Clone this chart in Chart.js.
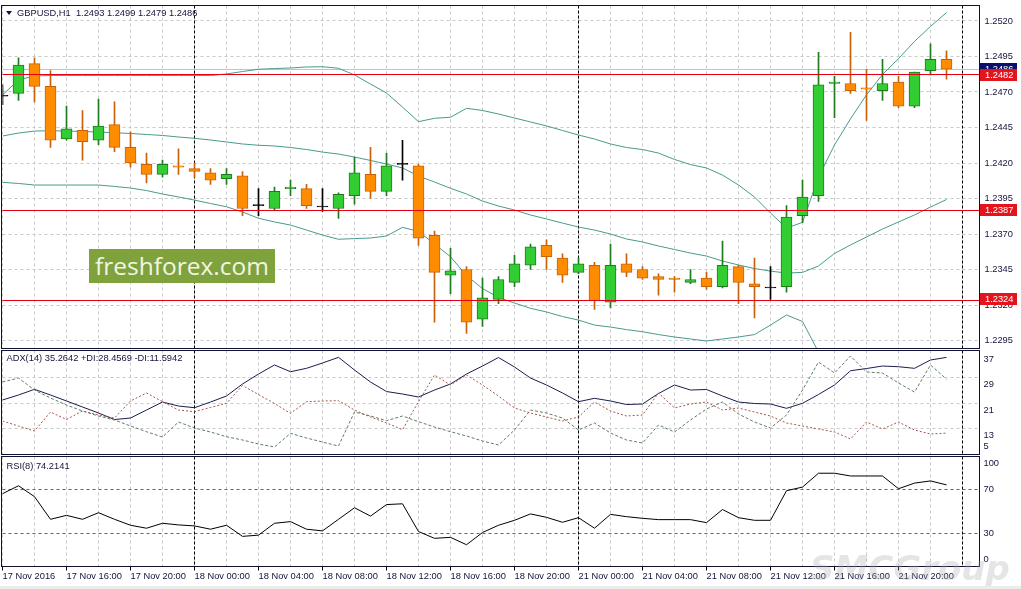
<!DOCTYPE html>
<html lang="en">
<head>
<meta charset="UTF-8">
<title>GBPUSD,H1</title>
<script src="https://cdn.jsdelivr.net/npm/chart.js@4.4.3/dist/chart.umd.min.js"></script>
<style>
  html, body { margin: 0; padding: 0; background: #fff; }
  #wrap { position: relative; width: 1021px; height: 589px; overflow: hidden; background: #fff; }
  #wrap canvas { position: absolute; left: 0; }
  #fresh { position: absolute; left: 89px; top: 249px; width: 186px; height: 34px; background: #80a23c;
           color: #f1f5e4; font: 24.5px 'Open Sans', sans-serif; line-height: 33px; text-align: center; }
  #smc { position: absolute; left: 810px; top: 548px; font: italic bold 34px 'DejaVu Sans', sans-serif;
         color: rgba(170,170,170,0.3); }
  #strip { position: absolute; left: 0; top: 586px; width: 1021px; height: 3px; background: #ececec; }
</style>
</head>
<body>
<div id="wrap">
  <canvas id="price" width="1021" height="349" style="top:0"></canvas>
  <canvas id="adx" width="1021" height="107" style="top:349px"></canvas>
  <canvas id="rsi" width="1021" height="133" style="top:456px"></canvas>
  <div id="fresh">freshforex.com</div>
  <div id="smc">SMCGroup</div>
  <div id="strip"></div>
</div>
<script>
// --- data (H1 bars, 17 Nov 12:00 .. 21 Nov 23:00) ---
const timeLabels = ['17 Nov 2016', '17 Nov 16:00', '17 Nov 20:00', '18 Nov 00:00', '18 Nov 04:00',
  '18 Nov 08:00', '18 Nov 12:00', '18 Nov 16:00', '18 Nov 20:00', '21 Nov 00:00', '21 Nov 04:00',
  '21 Nov 08:00', '21 Nov 12:00', '21 Nov 16:00', '21 Nov 20:00'];
const priceTicks = [1.2295, 1.2320, 1.2345, 1.2370, 1.2395, 1.2420, 1.2445, 1.2470, 1.2495, 1.2520];

const opens = [1.2467,1.2469,1.2490,1.2474,1.2437,1.2443,1.2436,1.2447,1.2431,1.2419,
  1.2412,1.2418,1.2416,1.2413,1.2409,1.2411,1.2390,1.2388,1.2402,1.2402,
  1.2389,1.2388,1.2397,1.2412,1.2400,1.2419,1.2418,1.2369,1.2341,1.2345,
  1.2310,1.2324,1.2336,1.2348,1.2362,1.2353,1.2343,1.2348,1.2322,1.2349,
  1.2345,1.2340,1.2339,1.2336,1.2339,1.2333,1.2347,1.2335,1.2332,1.2333,
  1.2383,1.2397,1.2476,1.2476,1.2473,1.2471,1.2477,1.2460,1.2485,1.2493];
const highs = [1.2475,1.2494,1.2494,1.2485,1.2460,1.2457,1.2465,1.2463,1.2442,1.2427,
  1.2422,1.2430,1.2420,1.2416,1.2416,1.2414,1.2402,1.2403,1.2408,1.2405,
  1.2402,1.2399,1.2424,1.2431,1.2427,1.2436,1.2419,1.2372,1.2360,1.2347,
  1.2339,1.2340,1.2355,1.2363,1.2366,1.2356,1.2353,1.2350,1.2363,1.2356,
  1.2347,1.2342,1.2340,1.2345,1.2343,1.2365,1.2348,1.2353,1.2347,1.2390,
  1.2408,1.2498,1.2481,1.2512,1.2486,1.2493,1.2481,1.2484,1.2504,1.2499];
const lows = [1.2461,1.2464,1.2463,1.2431,1.2436,1.2422,1.2433,1.2428,1.2417,1.2406,
  1.2410,1.2412,1.2410,1.2405,1.2405,1.2383,1.2383,1.2387,1.2397,1.2388,
  1.2386,1.2381,1.2391,1.2395,1.2397,1.2408,1.2362,1.2308,1.2328,1.2300,
  1.2305,1.2321,1.2333,1.2345,1.2345,1.2336,1.2342,1.2317,1.2318,1.2340,
  1.2338,1.2327,1.2329,1.2335,1.2331,1.2332,1.2321,1.2311,1.2324,1.2329,
  1.2378,1.2393,1.2452,1.2469,1.2450,1.2464,1.2459,1.2459,1.2482,1.2479];
const closes = [1.2467,1.2489,1.2474,1.2436,1.2444,1.2435,1.2446,1.2431,1.2420,1.2412,
  1.2419,1.2417,1.2414,1.2408,1.2412,1.2388,1.2390,1.2400,1.2403,1.2390,
  1.2389,1.2398,1.2413,1.2400,1.2418,1.2419,1.2367,1.2343,1.2344,1.2308,
  1.2325,1.2338,1.2349,1.2361,1.2354,1.2341,1.2349,1.2323,1.2348,1.2343,
  1.2339,1.2338,1.2338,1.2338,1.2333,1.2348,1.2336,1.2333,1.2332,1.2382,
  1.2396,1.2475,1.2477,1.2471,1.2472,1.2476,1.2460,1.2484,1.2493,1.2486];

const bbUpper = [1.24679,1.24785,1.24813,1.24816,1.24816,1.24816,1.24816,1.24816,1.24816,1.24816,
  1.24816,1.24816,1.24816,1.24816,1.24827,1.24844,1.24860,1.24865,1.24869,1.24876,
  1.24878,1.24867,1.24820,1.24756,1.24693,1.24594,1.24491,1.24515,1.24522,1.24585,
  1.24570,1.24545,1.24517,1.24489,1.24461,1.24429,1.24397,1.24369,1.24334,1.24309,
  1.24295,1.24270,1.24225,1.24189,1.24165,1.24115,1.24045,1.23961,1.23848,1.23742,
  1.23782,1.24101,1.24327,1.24511,1.24680,1.24823,1.24935,1.25056,1.25162,1.25259];
const bbMiddle = [1.24390,1.24411,1.24425,1.24427,1.24425,1.24422,1.24418,1.24413,1.24408,1.24401,
  1.24394,1.24383,1.24374,1.24362,1.24348,1.24334,1.24325,1.24320,1.24309,1.24295,
  1.24277,1.24263,1.24242,1.24218,1.24193,1.24165,1.24108,1.24066,1.24022,1.23982,
  1.23932,1.23897,1.23869,1.23834,1.23806,1.23777,1.23749,1.23728,1.23700,1.23665,
  1.23644,1.23616,1.23591,1.23566,1.23545,1.23510,1.23482,1.23457,1.23439,1.23425,
  1.23430,1.23475,1.23563,1.23623,1.23679,1.23735,1.23785,1.23834,1.23890,1.23943];
const bbLower = [1.24064,1.24056,1.24045,1.24045,1.24045,1.24045,1.24045,1.24035,1.24024,1.24006,
  1.23982,1.23961,1.23939,1.23915,1.23892,1.23855,1.23811,1.23785,1.23763,1.23728,
  1.23693,1.23663,1.23668,1.23672,1.23686,1.23747,1.23718,1.23630,1.23540,1.23408,
  1.23316,1.23254,1.23214,1.23177,1.23151,1.23119,1.23094,1.23059,1.23045,1.23027,
  1.23012,1.22992,1.22975,1.22961,1.22947,1.22961,1.22975,1.22992,1.23059,1.23130,
  1.23084,1.22869,null,null,null,null,null,null,null,null];

const adxMain = [21.94,23.50,25.28,23.50,21.63,19.75,17.88,15.84,16.31,18.81,
  21.31,20.06,19.53,21.31,23.19,26.94,30.06,32.88,30.78,31.84,
  33.50,35.28,31.31,27.56,24.59,23.81,22.88,25.06,26.94,30.06,
  32.56,35.22,32.25,28.81,26.63,24.13,21.41,22.47,21.63,20.53,
  20.69,23.97,26.63,25.06,25.22,23.19,21.31,20.84,20.69,19.34,
  20.91,23.66,26.63,31.09,31.78,32.56,32.34,31.84,34.44,35.26];
const adxPlus = [27.56,28.81,25.06,22.56,20.38,18.50,16.94,15.69,13.81,12.03,
  10.38,15.06,13.19,11.94,10.47,9.44,8.19,7.25,11.53,10.06,
  8.81,7.56,18.19,16.94,15.47,16.94,15.16,13.50,12.03,10.69,
  9.13,7.88,12.56,18.81,17.88,16.31,12.56,14.75,11.63,9.44,
  8.50,14.13,11.94,15.69,19.13,21.31,17.56,15.06,13.19,17.25,
  25.06,33.81,30.38,35.69,30.69,30.38,27.25,24.44,32.88,28.46];
const adxMinus = [15.38,13.81,12.25,18.19,15.85,18.50,17.25,16.31,21.63,24.13,
  21.41,18.81,18.28,19.60,20.91,26.47,23.66,20.85,17.78,21.41,
  21.63,21.72,18.81,16.63,14.75,12.66,21.41,29.75,26.63,29.75,
  26.63,23.19,19.44,17.88,16.63,15.38,16.63,21.31,18.50,16.94,
  17.25,24.13,19.44,20.69,21.31,18.81,19.44,18.19,16.94,14.75,
  13.81,12.88,11.94,9.75,15.06,12.88,15.06,12.56,11.31,11.59];
const rsiValues = [66.2,73.4,63.5,42.9,46.5,42.9,48.9,42.9,37.5,34.8,
  39.3,37.8,36.9,33.9,37.5,27.4,28.5,39.3,40.8,33.9,
  32.4,42.9,53.4,45.8,56.3,57.0,31.8,25.6,26.5,19.8,
  30.9,37.5,42.0,47.8,44.7,40.2,44.4,34.8,47.4,45.3,
  43.8,42.6,42.6,42.6,39.9,51.8,44.4,42.0,42.0,68.9,
  72.2,84.8,84.8,82.3,82.3,82.3,70.7,75.8,77.8,74.21];

const levels = [1.2482, 1.2387, 1.2324];
const bidPrice = 1.2486;
const adxTicks = [5, 13, 21, 29, 37];
const rsiTicks = [0, 30, 70, 100];
const separators = [12, 36, 60];

// --- look ---
const FONT = "'Liberation Sans', Arial, sans-serif";
const TEXT = '#14143c';
const GRID = '#c9c9c9';
const X_MAX = 61.0625;
const AXIS_W = 41.5;
const BB_COLOR = 'rgb(72,155,140)';
const LEVEL_LINE = 'rgb(228,0,18)';

Chart.defaults.font.family = FONT;
Chart.defaults.font.size = 9.3;
Chart.defaults.color = TEXT;

const idx = opens.map((_, i) => i);
const pts = arr => arr.map((v, i) => ({ x: i, y: v }));

function noPad(s) { s.paddingTop = 0; s.paddingBottom = 0; s.paddingLeft = 0; s.paddingRight = 0; }

function xAxis(showLabels) {
  return {
    type: 'linear', min: 0, max: X_MAX, offset: false,
    afterBuildTicks: s => { const t = []; for (let v = 0; v <= 60; v += 2) t.push({ value: v }); s.ticks = t; },
    ticks: showLabels ? {
      autoSkip: false, maxRotation: 0, minRotation: 0, align: 'start', padding: 0, color: TEXT,
      callback: v => (v % 4 === 0 && timeLabels[v / 4]) || ''
    } : { display: false },
    grid: {
      color: GRID, offset: false, drawTicks: showLabels, tickLength: 4,
      tickColor: c => (c.tick && c.tick.value % 4 === 0 && c.tick.value < 60) ? '#000' : 'rgba(0,0,0,0)'
    },
    border: { display: false, dash: [3, 3] },
    afterFit: s => { s.height = showLabels ? 22.5 : 0; noPad(s); }
  };
}

function yAxis(extra) {
  return Object.assign({
    position: 'right',
    grid: { color: GRID, drawTicks: false },
    border: { display: false, dash: [3, 3] },
    afterFit: s => { s.width = AXIS_W; noPad(s); }
  }, extra);
}

function lineSet(arr, color, dash) {
  return { type: 'line', data: pts(arr), borderColor: color, borderWidth: 1, borderDash: dash || [],
           pointRadius: 0, tension: 0, fill: false, order: 3 };
}

function drawSeparators(chart) {
  const { ctx, chartArea: a, scales: { x } } = chart;
  ctx.save();
  ctx.strokeStyle = '#000'; ctx.lineWidth = 1; ctx.setLineDash([3, 2]);
  separators.forEach(i => {
    const px = Math.floor(x.getPixelForValue(i)) + 0.5;
    ctx.beginPath(); ctx.moveTo(px, a.top); ctx.lineTo(px, a.bottom); ctx.stroke();
  });
  ctx.restore();
}

function drawFrame(chart) {
  const { ctx, chartArea: a } = chart;
  const t = Math.floor(a.top) + 0.5, b = Math.floor(a.bottom) + 0.5;
  ctx.save();
  ctx.strokeStyle = '#101030'; ctx.lineWidth = 1;
  ctx.strokeRect(1.5, t, Math.floor(a.right) - 1, b - t);
  ctx.restore();
}

function drawHeader(chart, text, x, y) {
  const ctx = chart.ctx;
  ctx.save();
  ctx.fillStyle = TEXT; ctx.font = '9.3px ' + FONT; ctx.textBaseline = 'middle'; ctx.textAlign = 'left';
  ctx.fillText(text, x, y);
  ctx.restore();
}

function priceTag(ctx, yPix, text, bg) {
  const yc = Math.round(yPix);
  ctx.fillStyle = bg;
  ctx.fillRect(980, yc - 6, 37, 12);
  ctx.fillStyle = '#fff'; ctx.font = '9.3px ' + FONT; ctx.textBaseline = 'middle'; ctx.textAlign = 'left';
  ctx.fillText(text, 985, yc + 0.5);
}

const pricePanel = {
  id: 'pricePanel',
  beforeDatasetsDraw(chart) {
    const { ctx, chartArea: a, scales: { y } } = chart;
    drawSeparators(chart);
    const by = Math.floor(y.getPixelForValue(bidPrice)) + 0.5;
    ctx.save(); ctx.strokeStyle = '#bcc6ce'; ctx.lineWidth = 1;
    ctx.beginPath(); ctx.moveTo(a.left, by); ctx.lineTo(a.right, by); ctx.stroke(); ctx.restore();
  },
  afterDatasetsDraw(chart) {
    const { ctx, chartArea: a, scales: { y } } = chart;
    ctx.save(); ctx.strokeStyle = LEVEL_LINE; ctx.lineWidth = 1; ctx.setLineDash([]);
    levels.forEach(v => {
      // snap to an even pixel row so the thin red line keeps its colour in the screenshot
      const py = 2 * Math.round(y.getPixelForValue(v) / 2) + 0.5;
      ctx.beginPath(); ctx.moveTo(a.left, py); ctx.lineTo(a.right, py); ctx.stroke();
    });
    ctx.restore();
  },
  afterDraw(chart) {
    const { ctx, scales: { y } } = chart;
    drawFrame(chart);
    ctx.save();
    priceTag(ctx, y.getPixelForValue(bidPrice), bidPrice.toFixed(4), '#0b0f6b');
    levels.forEach(v => priceTag(ctx, y.getPixelForValue(v), v.toFixed(4), '#e3141c'));
    // header with the last bar's OHLC
    ctx.fillStyle = TEXT;
    ctx.beginPath(); ctx.moveTo(6, 11); ctx.lineTo(12, 11); ctx.lineTo(9, 15); ctx.closePath(); ctx.fill();
    ctx.restore();
    const n = opens.length - 1;
    drawHeader(chart, 'GBPUSD,H1  ' + [opens[n], highs[n], lows[n], closes[n]].map(v => v.toFixed(4)).join(' '), 17, 13.5);
  }
};

const baseOptions = {
  responsive: false, animation: false, devicePixelRatio: 1, events: [],
  plugins: { legend: { display: false }, tooltip: { enabled: false } }
};

const UP = '#32cd32', UP_LINE = '#1e7b1e', DN = '#ff8c00', DN_LINE = '#c8620a';
const bodyFill = idx.map(i => closes[i] > opens[i] ? UP : closes[i] < opens[i] ? DN : '#000');
const bodyLine = idx.map(i => closes[i] > opens[i] ? UP_LINE : closes[i] < opens[i] ? DN_LINE : '#000');

new Chart(document.getElementById('price'), {
  type: 'bar',
  data: {
    datasets: [
      { type: 'bar', data: idx.map(i => ({ x: i, y: [opens[i], closes[i]] })), backgroundColor: bodyFill,
        borderColor: bodyLine, borderWidth: 1, borderSkipped: false, barThickness: 11, grouped: false,
        minBarLength: 1, order: 1 },
      { type: 'bar', data: idx.map(i => ({ x: i, y: [lows[i], highs[i]] })), backgroundColor: bodyLine,
        borderWidth: 0, barThickness: 1, grouped: false, order: 2 },
      lineSet(bbUpper, BB_COLOR), lineSet(bbMiddle, BB_COLOR), lineSet(bbLower, BB_COLOR)
    ]
  },
  options: Object.assign({}, baseOptions, {
    layout: { padding: { left: 2.5, top: 5.5, right: 0, bottom: 0.5 } },
    scales: {
      x: xAxis(false),
      y: yAxis({
        min: 1.22894, max: 1.25309,
        afterBuildTicks: s => { s.ticks = priceTicks.map(v => ({ value: v })); },
        ticks: { autoSkip: false, padding: 5, callback: v => v.toFixed(4) }
      })
    }
  }),
  plugins: [pricePanel]
});

new Chart(document.getElementById('adx'), {
  type: 'line',
  data: {
    datasets: [
      lineSet(adxMinus, '#a8574c', [2, 2]),
      lineSet(adxPlus, '#5e7d6c', [3, 2]),
      lineSet(adxMain, '#1c1c50')
    ]
  },
  options: Object.assign({}, baseOptions, {
    layout: { padding: { left: 2.5, top: 1.5, right: 0, bottom: 1.5 } },
    scales: {
      x: xAxis(false),
      y: yAxis({
        min: 4.91, max: 37.41,
        afterBuildTicks: s => { s.ticks = adxTicks.map(v => ({ value: v })); },
        grid: { drawTicks: false, color: c => (c.tick && c.tick.value > 5 && c.tick.value < 37) ? GRID : 'rgba(0,0,0,0)' },
        ticks: { autoSkip: false, padding: 4, font: { lineHeight: 1.57 },
                 callback: v => v === adxTicks[0] ? [String(v), ''] : ['', String(v)] }
      })
    }
  }),
  plugins: [{
    id: 'adxPanel',
    beforeDatasetsDraw: drawSeparators,
    afterDraw(chart) {
      drawFrame(chart);
      drawHeader(chart, 'ADX(14) 35.2642 +DI:28.4569 -DI:11.5942', 6.5, 9.5);
    }
  }]
});

new Chart(document.getElementById('rsi'), {
  type: 'line',
  data: { datasets: [lineSet(rsiValues, '#000')] },
  options: Object.assign({}, baseOptions, {
    layout: { padding: { left: 2.5, top: 0.5, right: 0, bottom: 0 } },
    scales: {
      x: xAxis(true),
      y: yAxis({
        min: 0, max: 100,
        afterBuildTicks: s => { s.ticks = rsiTicks.map(v => ({ value: v })); },
        grid: { drawTicks: false, color: c => (c.tick && c.tick.value > 0 && c.tick.value < 100) ? '#b0473c' : 'rgba(0,0,0,0)' },
        ticks: { autoSkip: false, padding: 4, font: { lineHeight: 1.5 },
                 callback: v => v === 100 ? ['', '100'] : v === 0 ? ['0', ''] : String(v) }
      })
    }
  }),
  plugins: [{
    id: 'rsiPanel',
    beforeDatasetsDraw: drawSeparators,
    afterDraw(chart) {
      drawFrame(chart);
      drawHeader(chart, 'RSI(8) 74.2141', 6.5, 10);
    }
  }]
});
</script>
</body>
</html>
